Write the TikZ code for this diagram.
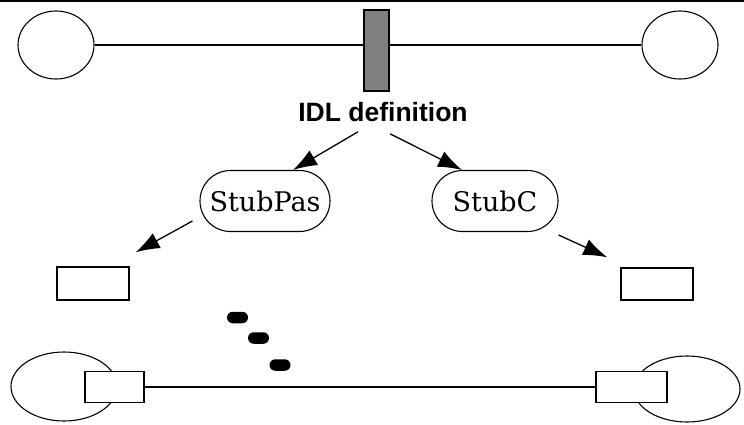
\documentclass[tikz,border=0pt]{standalone}
\usepackage{fontspec}
\newfontfamily\labelfont{Liberation Sans}
\newfontfamily\stubfont{DejaVu Serif}
\usetikzlibrary{arrows.meta, positioning, shapes.geometric, shapes.misc}

\begin{document}
\begin{tikzpicture}[
  x=1pt, y=-1pt,
  line width=1.1pt,
  site/.style={draw, ellipse, fill=white, inner sep=0pt},
  port/.style={draw, rectangle, fill=white, inner sep=0pt, line width=1.4pt},
  stub/.style={draw, rounded rectangle, inner sep=0pt, minimum height=61pt, font=\stubfont\fontsize{27}{27}\selectfont},
  dotpill/.style={fill=black, rounded rectangle, inner sep=0pt, minimum width=21pt, minimum height=11.5pt},
  arrow/.style={-{Latex[length=24pt, width=17pt]}, line width=1.3pt}
]
\useasboundingbox (0,0) rectangle (744,425);

% Top rule
\draw (0,1) -- (744,1);

% Top row
\node[site, minimum width=76pt, minimum height=68pt] (siteA) at (56,45) {};
\node[site, minimum width=76pt, minimum height=68pt] (siteB) at (680,45) {};
\draw (siteA.east) -- (siteB.west);
\node[draw, fill=gray, inner sep=0pt, line width=1.4pt, minimum width=25pt, minimum height=81pt] (idlbox) at (376.5,50.5) {};

% Label
\node[font=\labelfont\bfseries\fontsize{26.5}{26.5}\selectfont, anchor=base, inner sep=0pt] (idl) at (383,122) {IDL definition};

% Stubs
\node[stub, minimum width=130pt] (stubpas) at (265,201) {StubPas};
\node[stub, minimum width=126pt] (stubc) at (495,201) {StubC};

% Generated parts
\node[port, minimum width=72pt, minimum height=33pt] (outpas) at (93,283.5) {};
\node[port, minimum width=72pt, minimum height=32pt] (outc) at (657,284) {};

% Dots
\node[dotpill] (dot1) at (237.5,317.5) {};
\node[dotpill] (dot2) at (258.5,338) {};
\node[dotpill] (dot3) at (280,365) {};

% Bottom row
\node[site, minimum width=106pt, minimum height=69pt] (siteC) at (64,386.5) {};
\node[site, minimum width=106pt, minimum height=66pt] (siteD) at (687,389) {};
\node[port, minimum width=59pt, minimum height=31pt] (portC) at (114.5,387) {};
\node[port, minimum width=71pt, minimum height=31pt] (portD) at (631.5,387) {};
\draw (portC.east) -- (portD.west);

% Arrows
\draw[arrow] ([xshift=-25pt, yshift=-9pt]idl.south) -- ([xshift=28pt]stubpas.north);
\draw[arrow] ([xshift=7pt, yshift=-11pt]idl.south) -- ([xshift=-33pt]stubc.north);
\draw[arrow] ([xshift=-7pt, yshift=-20pt]stubpas.west) -- ([xshift=6pt, yshift=14pt]outpas.north east);
\draw[arrow] ([yshift=-34pt]stubc.east) -- ([xshift=-13pt, yshift=10pt]outc.north west);

\end{tikzpicture}
\end{document}
